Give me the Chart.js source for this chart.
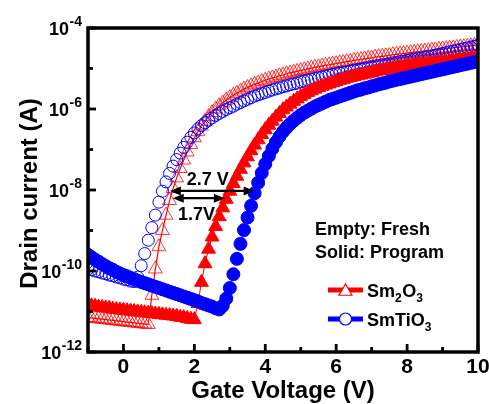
<!DOCTYPE html>
<html><head><meta charset="utf-8">
<script src="https://cdn.jsdelivr.net/npm/chart.js@4.4.0/dist/chart.umd.min.js"></script>
<style>html,body{margin:0;padding:0;background:#fff;overflow:hidden}canvas{display:block}</style>
</head><body>
<canvas id="c" width="489" height="404"></canvas>
<script>
// Gate voltage (V)
const gateVoltage = [
-1.0,-0.9,-0.8,-0.7,-0.6,-0.5,-0.4,-0.3,-0.2,-0.1,
0.0,0.1,0.2,0.3,0.4,0.5,0.6,0.7,0.8,0.9,
1.0,1.1,1.2,1.3,1.4,1.5,1.6,1.7,1.8,1.9,
2.0,2.1,2.2,2.3,2.4,2.5,2.6,2.7,2.8,2.9,
3.0,3.1,3.2,3.3,3.4,3.5,3.6,3.7,3.8,3.9,
4.0,4.1,4.2,4.3,4.4,4.5,4.6,4.7,4.8,4.9,
5.0,5.1,5.2,5.3,5.4,5.5,5.6,5.7,5.8,5.9,
6.0,6.1,6.2,6.3,6.4,6.5,6.6,6.7,6.8,6.9,
7.0,7.1,7.2,7.3,7.4,7.5,7.6,7.7,7.8,7.9,
8.0,8.1,8.2,8.3,8.4,8.5,8.6,8.7,8.8,8.9,
9.0,9.1,9.2,9.3,9.4,9.5,9.6,9.7,9.8,9.9,
10.0];

// log10 of drain current (A)
const logId_Sm2O3_fresh = [
-11.15,-11.16,-11.17,-11.18,-11.19,-11.20,-11.21,-11.22,-11.23,-11.24,
-11.25,-11.26,-11.27,-11.28,-11.29,-11.30,-11.31,-11.32,-10.60,-9.95,
-9.40,-9.00,-8.62,-8.26,-7.96,-7.70,-7.47,-7.26,-7.06,-6.88,
-6.71,-6.56,-6.42,-6.30,-6.19,-6.09,-6.00,-5.92,-5.85,-5.78,
-5.72,-5.66,-5.61,-5.56,-5.51,-5.47,-5.43,-5.39,-5.36,-5.32,
-5.29,-5.26,-5.23,-5.21,-5.18,-5.16,-5.13,-5.11,-5.09,-5.07,
-5.05,-5.03,-5.01,-4.99,-4.97,-4.96,-4.94,-4.92,-4.91,-4.89,
-4.88,-4.86,-4.85,-4.83,-4.82,-4.80,-4.79,-4.78,-4.76,-4.75,
-4.74,-4.72,-4.71,-4.70,-4.69,-4.68,-4.66,-4.65,-4.64,-4.63,
-4.62,-4.61,-4.60,-4.59,-4.58,-4.57,-4.56,-4.55,-4.54,-4.53,
-4.52,-4.51,-4.50,-4.49,-4.48,-4.47,-4.46,-4.45,-4.44,-4.43,
-4.42];

const logId_Sm2O3_program = [
-10.85,-10.86,-10.87,-10.89,-10.90,-10.91,-10.92,-10.94,-10.95,-10.96,
-10.97,-10.98,-10.99,-11.00,-11.01,-11.02,-11.03,-11.04,-11.05,-11.06,
-11.07,-11.08,-11.09,-11.10,-11.11,-11.12,-11.14,-11.15,-11.17,-11.19,
-11.20,-10.80,-10.28,-9.82,-9.46,-9.16,-8.90,-8.66,-8.44,-8.23,
-8.03,-7.84,-7.66,-7.49,-7.33,-7.18,-7.03,-6.89,-6.76,-6.63,
-6.51,-6.40,-6.30,-6.20,-6.11,-6.02,-5.95,-5.88,-5.81,-5.75,
-5.69,-5.64,-5.59,-5.55,-5.51,-5.47,-5.44,-5.41,-5.38,-5.35,
-5.32,-5.29,-5.27,-5.24,-5.22,-5.20,-5.18,-5.16,-5.14,-5.12,
-5.10,-5.08,-5.06,-5.05,-5.03,-5.01,-5.00,-4.98,-4.97,-4.96,
-4.94,-4.93,-4.92,-4.91,-4.90,-4.89,-4.88,-4.87,-4.86,-4.85,
-4.84,-4.83,-4.82,-4.81,-4.80,-4.79,-4.78,-4.78,-4.77,-4.76,
-4.75];

const logId_SmTiO3_fresh = [
-9.95,-9.97,-10.00,-10.02,-10.05,-10.07,-10.10,-10.12,-10.15,-10.17,
-10.20,-10.22,-10.25,-10.26,-10.15,-9.87,-9.57,-9.24,-8.93,-8.62,
-8.30,-8.03,-7.80,-7.59,-7.41,-7.25,-7.09,-6.95,-6.82,-6.70,
-6.59,-6.49,-6.41,-6.34,-6.28,-6.22,-6.16,-6.11,-6.06,-6.01,
-5.97,-5.93,-5.88,-5.84,-5.80,-5.76,-5.72,-5.68,-5.65,-5.62,
-5.59,-5.56,-5.53,-5.50,-5.48,-5.45,-5.43,-5.40,-5.38,-5.36,
-5.33,-5.31,-5.29,-5.27,-5.25,-5.23,-5.21,-5.19,-5.17,-5.15,
-5.13,-5.11,-5.10,-5.08,-5.06,-5.04,-5.03,-5.01,-4.99,-4.98,
-4.96,-4.94,-4.93,-4.91,-4.90,-4.88,-4.86,-4.85,-4.83,-4.82,
-4.80,-4.78,-4.77,-4.75,-4.74,-4.72,-4.70,-4.69,-4.67,-4.65,
-4.63,-4.61,-4.59,-4.57,-4.55,-4.53,-4.51,-4.49,-4.47,-4.45,
-4.43];

const logId_SmTiO3_program = [
-9.60,-9.66,-9.72,-9.77,-9.83,-9.88,-9.93,-9.97,-10.02,-10.06,
-10.10,-10.13,-10.17,-10.20,-10.24,-10.27,-10.30,-10.33,-10.36,-10.39,
-10.42,-10.45,-10.48,-10.51,-10.54,-10.57,-10.60,-10.63,-10.66,-10.69,
-10.72,-10.75,-10.79,-10.82,-10.85,-10.88,-10.92,-10.95,-10.86,-10.68,
-10.42,-10.08,-9.70,-9.33,-8.99,-8.68,-8.39,-8.08,-7.82,-7.58,
-7.36,-7.16,-6.98,-6.82,-6.68,-6.56,-6.46,-6.37,-6.29,-6.22,
-6.15,-6.09,-6.04,-5.99,-5.94,-5.90,-5.86,-5.82,-5.78,-5.75,
-5.72,-5.69,-5.66,-5.63,-5.60,-5.57,-5.54,-5.52,-5.49,-5.47,
-5.44,-5.42,-5.39,-5.37,-5.35,-5.32,-5.30,-5.28,-5.26,-5.24,
-5.22,-5.20,-5.18,-5.16,-5.14,-5.12,-5.10,-5.08,-5.06,-5.04,
-5.02,-5.00,-4.98,-4.96,-4.94,-4.92,-4.90,-4.88,-4.86,-4.84,
-4.82];

const xTickValues = [0, 2, 4, 6, 8, 10];
const xMinorTickValues = [-1, 1, 3, 5, 7, 9];
const yTickExponents = [-12, -10, -8, -6, -4];
const yMinorExponents = [-11, -9, -7, -5];
const legendNames = [['Sm','2','O','3'], ['SmTiO','3']];
const legendNotes = ['Empty: Fresh', 'Solid: Program'];
// threshold-shift arrows (gate voltage span, current level) and labels
const shiftArrows = [
  {label: '2.7 V', from: 1.31, to: 3.70, current: 9.5e-9, labelV: 2.38, labelI: 1.78e-8},
  {label: '1.7V',  from: 1.39, to: 2.86, current: 6.3e-9, labelV: 2.06, labelI: 2.4e-9}
];

const RED = '#ff0000', BLUE = '#0000ff';
const FONT = '"Liberation Sans", Arial, Helvetica, sans-serif';
const pts = arr => gateVoltage.map((v, i) => ({x: v, y: Math.pow(10, arr[i])}));

const decor = {
  id: 'decor',
  afterDraw(chart) {
    const ctx = chart.ctx, xs = chart.scales.x, ys = chart.scales.y, a = chart.chartArea;
    ctx.save();
    // frame
    ctx.strokeStyle = '#000'; ctx.lineWidth = 3.5;
    ctx.strokeRect(a.left, a.top, a.right - a.left, a.bottom - a.top);
    // ticks (inward)
    ctx.lineWidth = 2.8; ctx.lineCap = 'butt';
    const seg = (x0, y0, x1, y1) => { ctx.beginPath(); ctx.moveTo(x0, y0); ctx.lineTo(x1, y1); ctx.stroke(); };
    xTickValues.forEach(v => { const p = xs.getPixelForValue(v); seg(p, a.bottom, p, a.bottom - 8); });
    xMinorTickValues.forEach(v => { const p = xs.getPixelForValue(v); seg(p, a.bottom, p, a.bottom - 5); });
    yTickExponents.forEach(e => { const p = ys.getPixelForValue(Math.pow(10, e)); seg(a.left, p, a.left + 8, p); });
    yMinorExponents.forEach(e => { const p = ys.getPixelForValue(Math.pow(10, e)); seg(a.left, p, a.left + 5, p); });
    // x tick labels
    ctx.fillStyle = '#000';
    ctx.font = 'bold 21px ' + FONT; ctx.textAlign = 'center'; ctx.textBaseline = 'alphabetic';
    xTickValues.forEach(v => ctx.fillText(String(v), xs.getPixelForValue(v), a.bottom + 21));
    // y tick labels 10^e
    yTickExponents.forEach(e => {
      const p = ys.getPixelForValue(Math.pow(10, e));
      const sup = '-' + Math.abs(e);
      ctx.font = 'bold 14px ' + FONT;
      const sw = ctx.measureText(sup).width;
      const right = a.left - 6;
      ctx.textAlign = 'left';
      ctx.fillText(sup, right - sw, p - 2);
      ctx.font = 'bold 18px ' + FONT; ctx.textAlign = 'right';
      ctx.fillText('10', right - sw - 0.5, p + 6.5);
    });
    // axis titles
    ctx.font = 'bold 24px ' + FONT; ctx.textAlign = 'center';
    ctx.fillText('Gate Voltage (V)', (a.left + a.right) / 2, a.bottom + 46);
    ctx.save();
    ctx.translate(a.left - 51, (a.top + a.bottom) / 2 + 3.5);
    ctx.rotate(-Math.PI / 2);
    ctx.fillText('Drain current (A)', 0, 0);
    ctx.restore();
    // legend notes
    ctx.font = 'bold 18px ' + FONT; ctx.textAlign = 'left';
    ctx.fillText(legendNotes[0], a.left + 227, a.top + 207);
    ctx.fillText(legendNotes[1], a.left + 227, a.top + 230);
    // legend entries
    const lx0 = a.left + 240, lx1 = a.left + 275, lxc = (lx0 + lx1) / 2;
    const rows = [a.top + 262, a.top + 291];
    const cols = [RED, BLUE];
    rows.forEach((ry, k) => {
      ctx.strokeStyle = cols[k]; ctx.lineWidth = 5;
      seg(lx0, ry, lx1, ry);
      ctx.lineWidth = 1.2; ctx.fillStyle = '#fff';
      ctx.beginPath();
      if (k === 0) {
        const r = 7.5;
        for (let j = 0; j < 3; j++) {
          const ang = j * 2 * Math.PI / 3;
          const px = lxc + Math.sin(ang) * r, py = ry + 1.5 - Math.cos(ang) * r;
          j ? ctx.lineTo(px, py) : ctx.moveTo(px, py);
        }
        ctx.closePath();
      } else {
        ctx.arc(lxc, ry, 6, 0, Math.PI * 2);
      }
      ctx.fill(); ctx.stroke();
      // label with subscripts
      ctx.fillStyle = '#000';
      let tx = lx1 + 4;
      legendNames[k].forEach((part, j) => {
        const sub = j % 2 === 1;
        ctx.font = (sub ? 'bold 12px ' : 'bold 18px ') + FONT;
        ctx.fillText(part, tx, ry + (sub ? 12 : 6.5));
        tx += ctx.measureText(part).width + (sub ? 0.5 : 0);
      });
    });
    // shift arrows
    ctx.strokeStyle = '#000'; ctx.fillStyle = '#000'; ctx.lineWidth = 2.2;
    shiftArrows.forEach(s => {
      const x0 = xs.getPixelForValue(s.from), x1 = xs.getPixelForValue(s.to), y = ys.getPixelForValue(s.current);
      const hl = 11, hh = 4.5;
      seg(x0 + hl - 2, y, x1 - hl + 2, y);
      ctx.beginPath(); ctx.moveTo(x0, y); ctx.lineTo(x0 + hl, y - hh); ctx.lineTo(x0 + hl, y + hh); ctx.closePath(); ctx.fill();
      ctx.beginPath(); ctx.moveTo(x1, y); ctx.lineTo(x1 - hl, y - hh); ctx.lineTo(x1 - hl, y + hh); ctx.closePath(); ctx.fill();
      ctx.font = 'bold 18px ' + FONT; ctx.textAlign = 'center'; ctx.textBaseline = 'middle';
      ctx.fillText(s.label, xs.getPixelForValue(s.labelV), ys.getPixelForValue(s.labelI));
      ctx.textBaseline = 'alphabetic';
    });
    ctx.restore();
  }
};

new Chart(document.getElementById('c'), {
  type: 'line',
  data: {
    datasets: [
      {label: 'SmTiO3 program', data: pts(logId_SmTiO3_program), order: 0,
       showLine: false, pointStyle: 'circle', pointRadius: 6.5, pointBackgroundColor: BLUE, pointBorderColor: BLUE, pointBorderWidth: 1},
      {label: 'Sm2O3 program', data: pts(logId_Sm2O3_program), order: 1,
       showLine: true, borderColor: RED, borderWidth: 1, pointStyle: 'triangle', pointRadius: 8, pointBackgroundColor: RED, pointBorderColor: RED, pointBorderWidth: 1},
      {label: 'SmTiO3 fresh', data: pts(logId_SmTiO3_fresh), order: 2,
       showLine: false, pointStyle: 'circle', pointRadius: 6, pointBackgroundColor: 'rgba(255,255,255,0)', pointBorderColor: BLUE, pointBorderWidth: 1},
      {label: 'Sm2O3 fresh', data: pts(logId_Sm2O3_fresh), order: 3,
       showLine: true, borderColor: RED, borderWidth: 1.2, pointStyle: 'triangle', pointRadius: 8, pointBackgroundColor: 'rgba(255,255,255,0)', pointBorderColor: RED, pointBorderWidth: 0.8}
    ]
  },
  options: {
    responsive: false, animation: false, devicePixelRatio: 1,
    layout: {padding: {left: 88, top: 28, right: 11, bottom: 52}},
    elements: {line: {tension: 0}},
    plugins: {legend: {display: false}, tooltip: {enabled: false}},
    scales: {
      x: {type: 'linear', min: -1, max: 10, display: false},
      y: {type: 'logarithmic', min: 1e-12, max: 1e-4, display: false}
    }
  },
  plugins: [decor]
});
</script>
</body></html>
